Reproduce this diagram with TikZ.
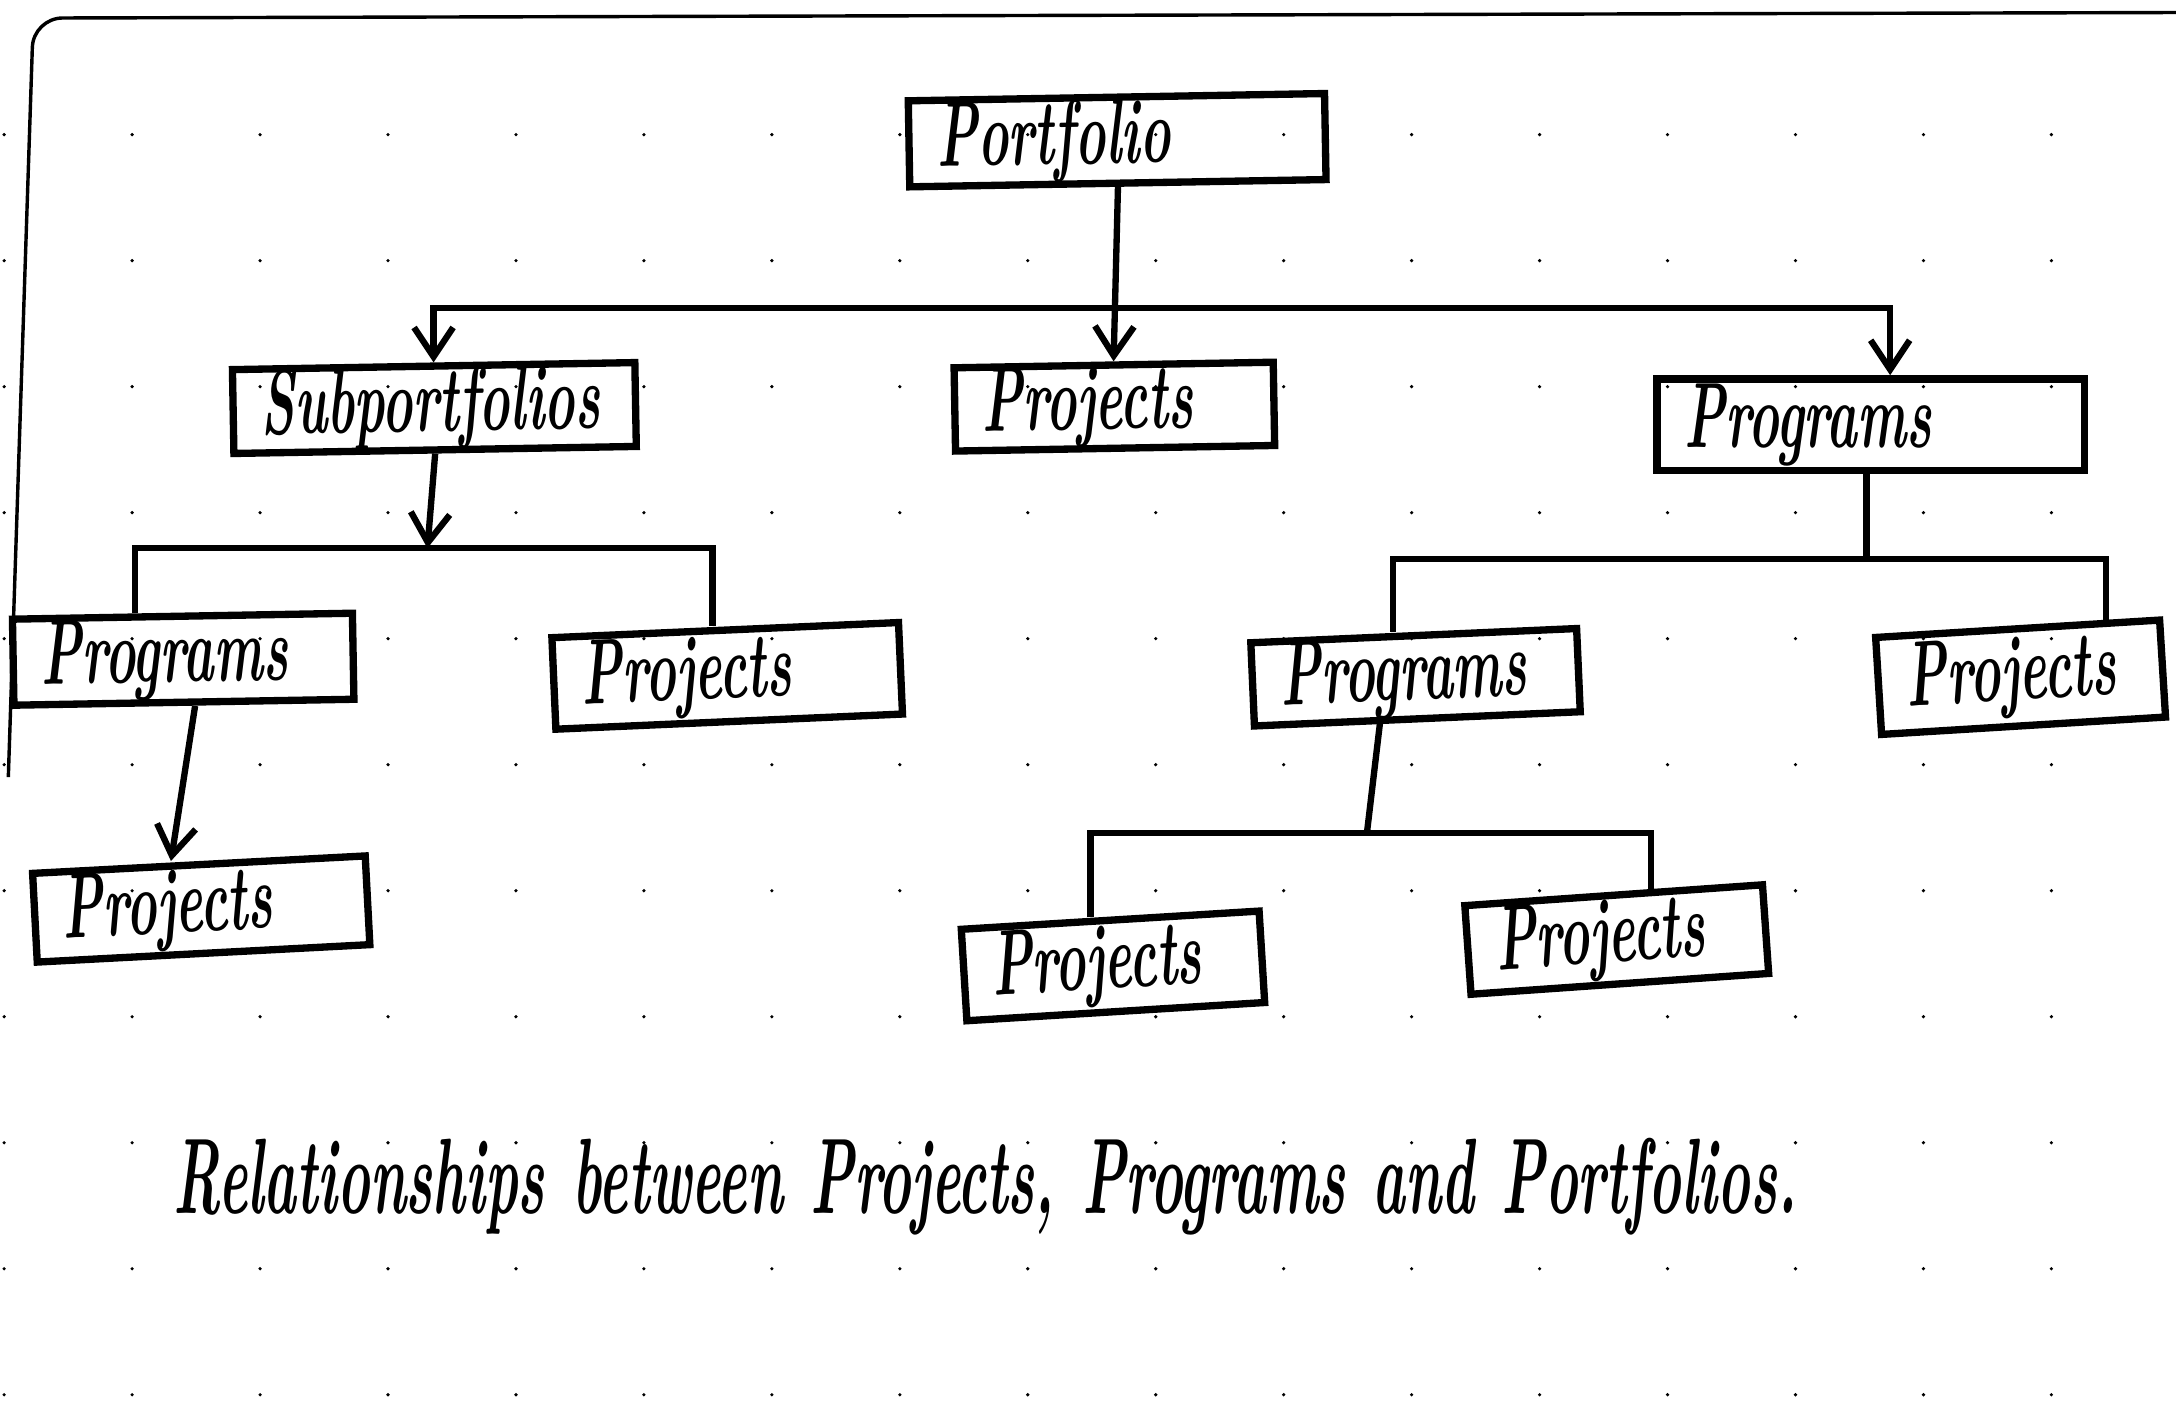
\documentclass[tikz,border=0pt]{standalone}
\usetikzlibrary{arrows.meta}

% narrow, tall hand lettering
\newcommand{\hw}[1]{\scalebox{0.56}[1]{#1}}

\begin{document}
\begin{tikzpicture}[
  line width=1.3pt,
  font=\fontsize{19}{22}\selectfont\bfseries\itshape,
  box/.style={
    draw, line width=1.5pt, inner xsep=0.2cm, inner ysep=0pt,
    align=left
  },
  >={Straight Barb[length=6pt,width=8pt]}
]
  \useasboundingbox (0,0) rectangle (15.68,-10.15);

  % dotted paper
  \foreach \i in {0,...,16}
    \foreach \j in {0,...,10}
      \fill (0.03+0.922*\i,-0.97-0.908*\j) circle (0.013);
  \draw[line width=0.7pt, rounded corners=6pt]
    (0.06,-5.6) -- (0.24,-0.13) -- (15.68,-0.09);

  \node[box, text width=2.6cm, minimum height=0.62cm, rotate=1]
        (portfolio) at (8.05,-1.01) {\hw{Portfolio}};

  \node[box, text width=2.5cm, minimum height=0.6cm, rotate=1]
        (subport) at (3.13,-2.94) {\hw{Subportfolios}};
  \node[box, text width=1.9cm, minimum height=0.6cm, rotate=1]
        (projM) at (8.03,-2.93) {\hw{Projects}};
  \node[box, text width=2.68cm, minimum height=0.66cm]
        (progR) at (13.48,-3.06) {\hw{Programs}};

  \node[box, text width=2.05cm, minimum height=0.62cm, rotate=1]
        (progL) at (1.32,-4.75) {\hw{Programs}};
  \node[box, text width=2.1cm, minimum height=0.66cm, rotate=2.5]
        (projL) at (5.24,-4.87) {\hw{Projects}};
  \node[box, text width=1.95cm, minimum height=0.6cm, rotate=2.5]
        (progC) at (10.2,-4.88) {\hw{Programs}};
  \node[box, text width=1.65cm, minimum height=0.7cm, rotate=3.5]
        (projR) at (14.56,-4.88) {\hw{Projects}};

  \node[box, text width=2.0cm, minimum height=0.64cm, rotate=3]
        (projLL) at (1.45,-6.55) {\hw{Projects}};
  \node[box, text width=1.75cm, minimum height=0.66cm, rotate=3.5]
        (projCL) at (8.02,-6.96) {\hw{Projects}};
  \node[box, text width=1.75cm, minimum height=0.64cm, rotate=4]
        (projCR) at (11.65,-6.77) {\hw{Projects}};

  \node (caption) at (7.1,-8.55)
        {\fontsize{22}{26}\selectfont\scalebox{0.515}[1]{Relationships\enspace between\enspace Projects,\enspace Programs\enspace and\enspace Portfolios.}};

  % joints of the branch bars
  \coordinate (jtop)  at (7.98,-2.22);
  \coordinate (jsub)  at (3.08,-3.95);
  \coordinate (jprog) at (13.45,-4.03);
  \coordinate (jmid)  at (9.85,-6.0);

  \draw[->] (portfolio.south) -- (projM.north);
  \draw[->] (jtop) -| (subport.north);
  \draw[->] (jtop) -| ([xshift=0.14cm]progR.north);

  \draw[->] (subport.south) -- (jsub);
  \draw (jsub) -| ([xshift=-0.34cm]progL.north);
  \draw (jsub) -| ([xshift=-0.09cm]projL.north);
  \draw[->] ([xshift=0.08cm]progL.south) -- ([xshift=-0.2cm]projLL.north);

  \draw ([xshift=-0.03cm]progR.south) -- (jprog);
  \draw (jprog) -| ([xshift=-0.15cm]progC.north);
  \draw (jprog) -| ([xshift=0.64cm]projR.north);

  \draw ([xshift=-0.27cm]progC.south) -- (jmid);
  \draw (jmid) -| ([xshift=-0.14cm]projCL.north);
  \draw (jmid) -| ([xshift=0.27cm]projCR.north);
\end{tikzpicture}
\end{document}
